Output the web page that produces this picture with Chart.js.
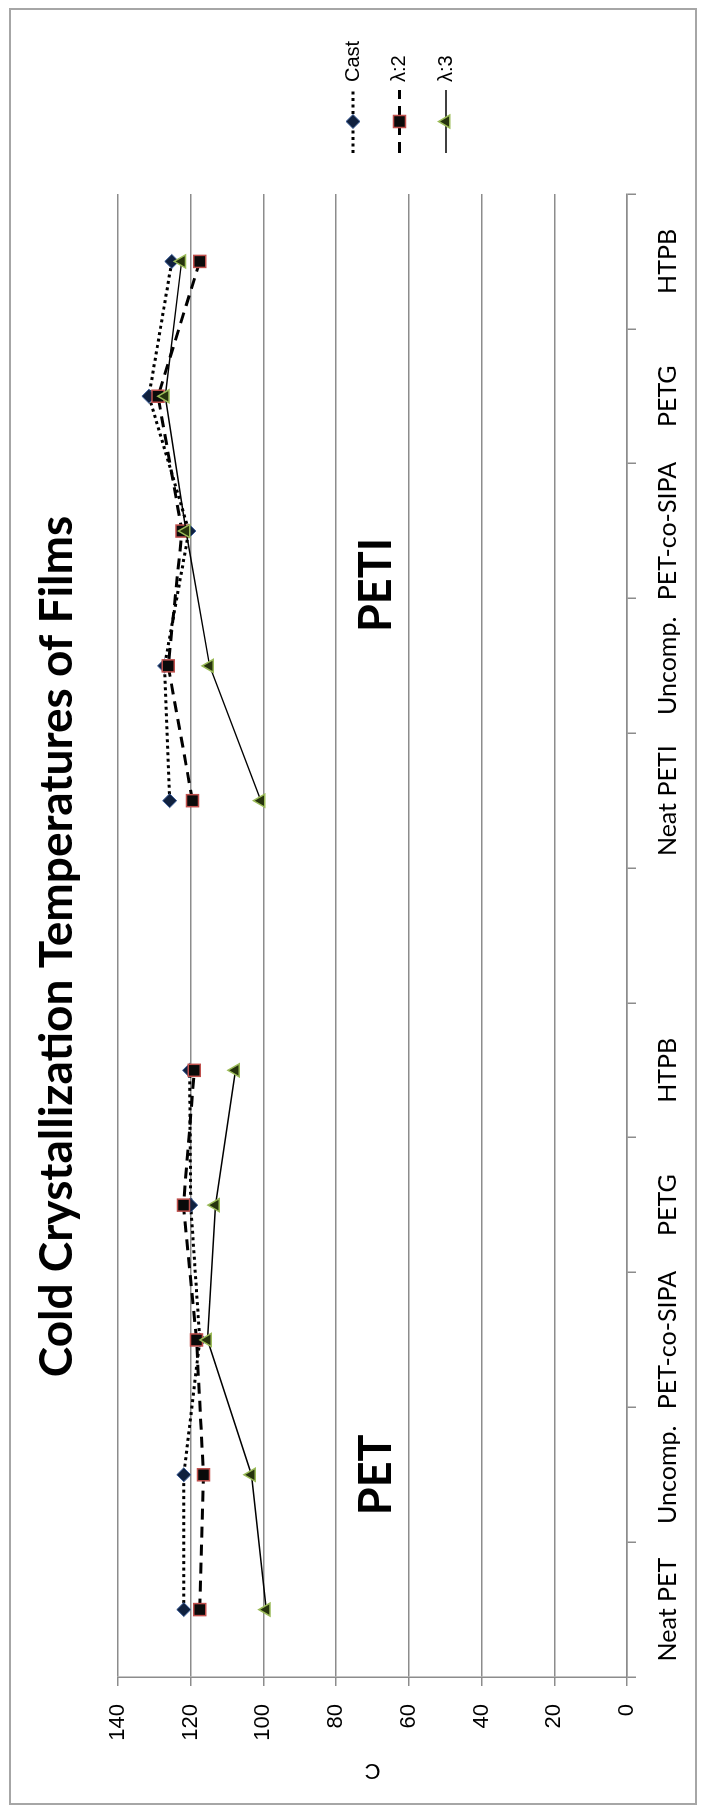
<!DOCTYPE html>
<html>
<head>
<meta charset="utf-8">
<title>Cold Crystallization Temperatures of Films</title>
<script src="https://cdn.jsdelivr.net/npm/chart.js@4.4.0/dist/chart.umd.min.js"></script>
<style>
    html, body { margin: 0; padding: 0; background: #fff; width: 705px; height: 1814px; overflow: hidden; }
    /* the chart is drawn landscape and turned a quarter turn, like the source figure */
    #wrap {
        position: absolute; left: 0; top: 0;
        width: 1814px; height: 705px;
        transform-origin: 0 0;
        transform: translate(0, 1814px) rotate(-90deg);
    }
</style>
</head>
<body>
<div id="wrap"><canvas id="ccChart" width="1814" height="705"></canvas></div>
<script>
// Data
const categories = ['Neat PET', 'Uncomp.', 'PET-co-SIPA', 'PETG', 'HTPB', '',
                    'Neat PETI', 'Uncomp.', 'PET-co-SIPA', 'PETG', 'HTPB'];
const castTemps    = [121.9, 121.9, 117.5, 120.0, 120.3, null, 125.8, 127.2, 120.5, 131.5, 125.2];
const lambda2Temps = [117.5, 116.5, 118.4, 122.0, 119.0, null, 119.5, 126.2, 122.4, 129.0, 117.5];
const lambda3Temps = [ 99.2, 103.3, 115.4, 113.2, 107.7, null, 100.7, 114.8, 121.3, 127.0, 122.5];
const tempTicks = [0, 20, 40, 60, 80, 100, 120, 140];

const TITLE = 'Cold Crystallization Temperatures of Films';
const GRID = '#8c8c8c';
const CALIBRI = 'Lato, "Open Sans", sans-serif';
const ARIAL = '"Liberation Sans", Arial, sans-serif';

// Big in-plot group labels (category index, temperature)
const GROUP_LABELS = [
    { text: 'PET', index: 1.0, value: 69 },
    { text: 'PETI', index: 7.6, value: 69 }
];

// Legend placement relative to the plot area
const LEGEND = { gap: 41, lineLen: 63, textGap: 8, firstRow: 235, rowStep: 46.5 };

const decorPlugin = {
    id: 'decor',
    beforeDraw(chart) {
        const ctx = chart.ctx;
        ctx.save();
        ctx.fillStyle = '#fff';
        ctx.fillRect(0, 0, chart.width, chart.height);
        ctx.strokeStyle = '#a6a6a6';
        ctx.lineWidth = 2;
        ctx.strokeRect(10, 10, chart.width - 19, chart.height - 19);
        ctx.restore();
    },
    afterDatasetsDraw(chart) {
        const ctx = chart.ctx;
        const xs = chart.scales.x, ys = chart.scales.y;
        ctx.save();
        ctx.fillStyle = '#000';
        ctx.font = 'bold 45px ' + CALIBRI;
        ctx.textAlign = 'center';
        ctx.textBaseline = 'middle';
        GROUP_LABELS.forEach(g => {
            ctx.fillText(g.text, xs.getPixelForValue(g.index), ys.getPixelForValue(g.value));
        });
        ctx.restore();
    },
    afterDraw(chart) {
        const ctx = chart.ctx;
        const area = chart.chartArea;
        ctx.save();

        // title
        ctx.fillStyle = '#000';
        ctx.font = 'bold 46px ' + CALIBRI;
        ctx.textAlign = 'center';
        ctx.textBaseline = 'middle';
        ctx.fillText(TITLE, (area.left + area.right) / 2 - 11, 57);

        // legend: line sample + marker + label
        ctx.font = '20px ' + ARIAL;
        ctx.textAlign = 'left';
        chart.data.datasets.forEach((ds, i) => {
            const y = area.top + LEGEND.firstRow + i * LEGEND.rowStep;
            const x0 = area.right + LEGEND.gap;
            const x1 = x0 + LEGEND.lineLen;
            ctx.save();
            ctx.strokeStyle = ds.borderColor;
            ctx.lineWidth = ds.borderWidth;
            ctx.setLineDash(ds.borderDash || []);
            ctx.beginPath();
            ctx.moveTo(x0, y);
            ctx.lineTo(x1, y);
            ctx.stroke();
            ctx.restore();

            ctx.save();
            ctx.fillStyle = ds.pointBackgroundColor;
            ctx.strokeStyle = ds.pointBorderColor;
            ctx.lineWidth = ds.pointBorderWidth;
            Chart.helpers.drawPoint(ctx, {
                pointStyle: ds.pointStyle,
                radius: ds.pointRadius,
                rotation: 0,
                borderWidth: ds.pointBorderWidth
            }, (x0 + x1) / 2, y);
            ctx.restore();

            ctx.fillStyle = '#000';
            ctx.fillText(ds.label, x1 + LEGEND.textGap, y);
        });
        ctx.restore();
    }
};

const ctx = document.getElementById('ccChart').getContext('2d');
const chart = new Chart(ctx, {
    type: 'line',
    data: {
        labels: categories,
        datasets: [{
            label: 'Cast',
            data: castTemps,
            order: 3,
            borderColor: '#000',
            borderWidth: 3,
            borderDash: [3, 3.5],
            pointStyle: 'rectRot',
            pointRadius: 7,
            pointBackgroundColor: '#10213f',
            pointBorderColor: '#3c5f9a',
            pointBorderWidth: 1
        }, {
            label: 'λ:2',
            data: lambda2Temps,
            order: 2,
            borderColor: '#000',
            borderWidth: 3,
            borderDash: [11, 7],
            pointStyle: 'rect',
            pointRadius: 8.5,
            pointBackgroundColor: '#0a0a0a',
            pointBorderColor: '#c0504d',
            pointBorderWidth: 1.5
        }, {
            label: 'λ:3',
            data: lambda3Temps,
            order: 1,
            borderColor: '#000',
            borderWidth: 1.5,
            pointStyle: 'triangle',
            pointRadius: 7.5,
            pointBackgroundColor: '#26330e',
            pointBorderColor: '#9bbb59',
            pointBorderWidth: 1.5
        }]
    },
    options: {
        responsive: false,
        animation: false,
        devicePixelRatio: 1,
        spanGaps: false,
        layout: { padding: { top: 118, right: 194, bottom: 0, left: 0 } },
        elements: { line: { tension: 0 } },
        plugins: {
            legend: { display: false },
            title: { display: false },
            tooltip: { enabled: false }
        },
        scales: {
            x: {
                type: 'category',
                offset: true,
                afterFit: s => { s.height = 78; },
                grid: {
                    offset: true,
                    drawOnChartArea: false,
                    drawTicks: true,
                    tickLength: 9,
                    color: GRID,
                    lineWidth: 1.5
                },
                border: { display: true, color: GRID, width: 1.5 },
                ticks: {
                    color: '#000',
                    font: { family: CALIBRI, size: 25 },
                    padding: 17,
                    maxRotation: 0,
                    autoSkip: false
                }
            },
            y: {
                min: tempTicks[0],
                max: tempTicks[tempTicks.length - 1],
                afterFit: s => { s.width = 137; },
                grid: {
                    drawTicks: true,
                    tickLength: 9,
                    color: GRID,
                    lineWidth: 1.5
                },
                border: { display: true, color: GRID, width: 1.5 },
                ticks: {
                    stepSize: tempTicks[1] - tempTicks[0],
                    color: '#000',
                    font: { family: ARIAL, size: 22 },
                    padding: 18
                },
                title: {
                    display: true,
                    text: 'C',
                    color: '#000',
                    font: { family: ARIAL, size: 22 },
                    padding: { top: 31, bottom: 0 }
                }
            }
        }
    },
    plugins: [decorPlugin]
});
</script>
</body>
</html>
